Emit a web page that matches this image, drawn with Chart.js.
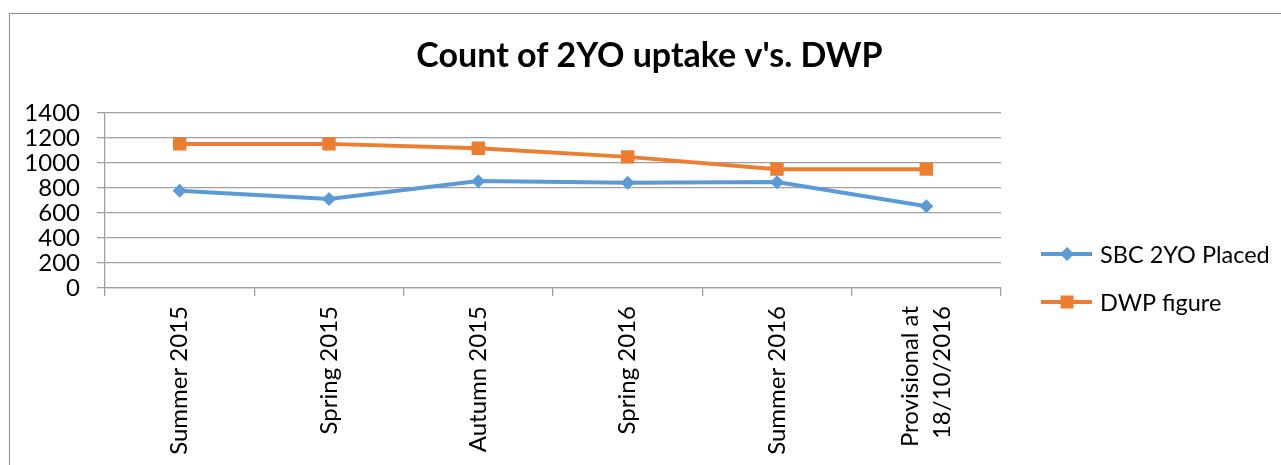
<!DOCTYPE html>
<html>
<head>
<meta charset="utf-8">
<title>Count of 2YO uptake v's. DWP</title>
<script src="https://cdn.jsdelivr.net/npm/chart.js@4.4.1/dist/chart.umd.min.js"></script>
<style>
  html, body { margin: 0; padding: 0; background: #fff; overflow: hidden; }
  #frame {
    position: absolute; left: 9px; top: 13px;
    width: 1320px; height: 520px;
    border: 1px solid #8f8f8f;
  }
  #wrap { position: absolute; left: 0; top: 0; width: 1281px; height: 465px; }
</style>
</head>
<body>
<div id="frame"></div>
<div id="wrap"><canvas id="uptakeChart"></canvas></div>
<script>
// chart data
const categories = ['Summer 2015', 'Spring 2015', 'Autumn 2015', 'Spring 2016', 'Summer 2016', ['Provisional at', '18/10/2016']];
const sbcPlaced = [778, 712, 855, 842, 847, 654];
const dwpFigure = [1153, 1153, 1118, 1049, 951, 951];
const yTicks = [0, 200, 400, 600, 800, 1000, 1200, 1400];
const seriesNames = ['SBC 2YO Placed', 'DWP figure'];
const chartTitle = "Count of 2YO uptake v's. DWP";

const FONT = 'Lato, "Open Sans", sans-serif';
const GRID = '#a0a0a0';

/**
 * Title centred on the whole frame (not only the plot)
 */
const frameTitle = {
  id: 'frameTitle',
  afterDraw(chart) {
    const ctx = chart.ctx;
    ctx.save();
    ctx.fillStyle = '#000';
    ctx.font = 'bold 34px ' + FONT;
    ctx.textAlign = 'center';
    ctx.textBaseline = 'alphabetic';
    ctx.fillText(chartTitle, (chart.width + 18) / 2, chart.chartArea.top - 46);
    ctx.restore();
  }
};

/**
 * Legend drawn to the right of the plot, Excel style (line + marker)
 */
const sideLegend = {
  id: 'sideLegend',
  afterDraw(chart) {
    const ctx = chart.ctx;
    const area = chart.chartArea;
    const x0 = area.right + 40;
    ctx.save();
    chart.data.datasets.forEach((ds, i) => {
      const y = area.bottom - 34 + i * 48;
      ctx.strokeStyle = ds.borderColor;
      ctx.lineWidth = ds.borderWidth;
      ctx.beginPath();
      ctx.moveTo(x0, y);
      ctx.lineTo(x0 + 51, y);
      ctx.stroke();

      ctx.fillStyle = ds.pointBackgroundColor;
      const cx = x0 + 26;
      ctx.beginPath();
      if (ds.pointStyle === 'rect') {
        ctx.rect(cx - 6.5, y - 6.5, 13, 13);
      } else {
        ctx.moveTo(cx, y - 7);
        ctx.lineTo(cx + 7, y);
        ctx.lineTo(cx, y + 7);
        ctx.lineTo(cx - 7, y);
        ctx.closePath();
      }
      ctx.fill();

      ctx.fillStyle = '#000';
      ctx.font = '23.5px ' + FONT;
      ctx.textBaseline = 'middle';
      ctx.textAlign = 'left';
      ctx.fillText(ds.label, x0 + 59, y + 1);
    });
    ctx.restore();
  }
};

/**
 * Centre multi-line rotated category labels on their tick
 */
const centerMultiline = {
  id: 'centerMultiline',
  beforeDraw(chart) {
    const scale = chart.scales.x;
    const items = scale.getLabelItems(chart.chartArea);
    items.forEach(item => {
      if (Array.isArray(item.label) && item.label.length > 1) {
        item.textOffset -= item.font.lineHeight * (item.label.length - 1) / 2;
      }
    });
  }
};

const ctx = document.getElementById('uptakeChart');

new Chart(ctx, {
  type: 'line',
  data: {
    labels: categories,
    datasets: [
      {
        label: seriesNames[0],
        data: sbcPlaced,
        borderColor: '#5b9bd5',
        backgroundColor: '#5b9bd5',
        pointBackgroundColor: '#5b9bd5',
        pointBorderWidth: 0,
        pointStyle: 'rectRot',
        pointRadius: 7,
        borderWidth: 4,
        tension: 0
      },
      {
        label: seriesNames[1],
        data: dwpFigure,
        borderColor: '#ed7d31',
        backgroundColor: '#ed7d31',
        pointBackgroundColor: '#ed7d31',
        pointBorderWidth: 0,
        pointStyle: 'rect',
        pointRadius: 9.5,
        borderWidth: 4,
        tension: 0
      }
    ]
  },
  options: {
    responsive: true,
    maintainAspectRatio: false,
    animation: false,
    layout: {
      padding: { left: 0, right: 280, top: 113, bottom: 0 }
    },
    plugins: {
      legend: { display: false },
      tooltip: { enabled: false },
      title: { display: false }
    },
    scales: {
      x: {
        offset: true,
        afterFit(scale) { scale.height = 177; },
        grid: {
          offset: true,
          drawOnChartArea: false,
          drawTicks: true,
          tickLength: 8,
          color: GRID,
          lineWidth: 1.3
        },
        border: { display: true, color: GRID, width: 1.3 },
        ticks: {
          autoSkip: false,
          minRotation: 90,
          maxRotation: 90,
          padding: 10,
          color: '#000',
          font: { family: FONT, size: 24, lineHeight: 1.35 }
        }
      },
      y: {
        min: 0,
        max: yTicks[yTicks.length - 1],
        afterFit(scale) { scale.width = 105; },
        afterBuildTicks(scale) { scale.ticks = yTicks.map(v => ({ value: v })); },
        grid: {
          color: GRID,
          lineWidth: 1.3,
          tickLength: 8
        },
        border: { display: true, color: GRID, width: 1.3 },
        ticks: {
          autoSkip: false,
          padding: 17,
          color: '#000',
          font: { family: FONT, size: 24 },
          callback: v => String(v)
        }
      }
    }
  },
  plugins: [centerMultiline, frameTitle, sideLegend]
});
</script>
</body>
</html>
